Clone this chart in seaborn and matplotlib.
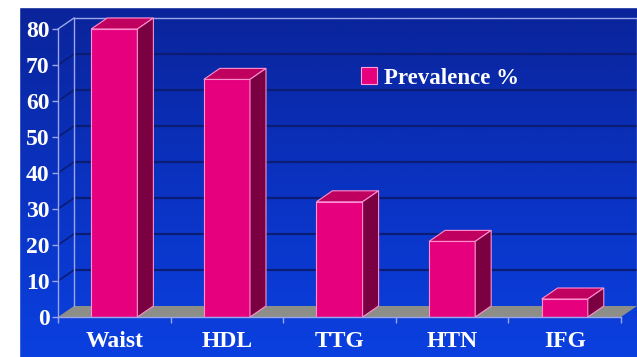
import numpy as np
import pandas as pd
import seaborn as sns
import matplotlib.pyplot as plt
from matplotlib.patches import Polygon, Rectangle
from matplotlib.colors import LinearSegmentedColormap

# Data
categories = ["Waist", "HDL", "TTG", "HTN", "IFG"]
prevalence = [80, 66, 32, 21, 5]
y_ticks = [0, 10, 20, 30, 40, 50, 60, 70, 80]
series_label = "Prevalence %"

df = pd.DataFrame({"factor": categories, "value": prevalence})

# Colours
FRONT = "#e6007e"
TOP = "#c0005e"
SIDE = "#7a0042"
EDGE = "#ff8fcf"
LAV = "#9aa6ee"
GRID = "#0a1c74"
FLOOR = "#8e8e88"

W, H = 637, 357
fig = plt.figure(figsize=(W / 100, H / 100), dpi=100)

# Background gradient
bg = fig.add_axes([0, 0, 1, 1], zorder=0)
grad = np.linspace(0, 1, 256).reshape(-1, 1)
cmap = LinearSegmentedColormap.from_list("bgblue", ["#0a2398", "#0a32c0", "#0b40e0"])
bg.imshow(grad, aspect="auto", cmap=cmap, extent=[0, 1, 0, 1], origin="upper")
bg.set_xlim(0, 1)
bg.set_ylim(0, 1)
bg.axis("off")
# white margins on top and left
bg.add_patch(Rectangle((0, 1 - 7 / H), 1, 7 / H, color="white", zorder=5))
bg.add_patch(Rectangle((0, 0), 19 / W, 1, color="white", zorder=5))

# Main axes: front plane
x_left, x_right, y_bot, y_top = 58, 621, 317, 29
ax = fig.add_axes([x_left / W, (H - y_bot) / H, (x_right - x_left) / W, (y_bot - y_top) / H], zorder=1)
ax.set_facecolor("none")

XMIN, XMAX, YMAX = -0.5, 4.5, 80
DX = 16 * (XMAX - XMIN) / (x_right - x_left)
DY = 11 * YMAX / (y_bot - y_top)

# Floor
ax.add_patch(Polygon([(XMIN, 0), (XMAX, 0), (XMAX + DX, DY), (XMIN + DX, DY)],
                     closed=True, facecolor=FLOOR, edgecolor="none", zorder=1, clip_on=False))

# Gridlines on back wall and left wall
for v in y_ticks[1:]:
    c = LAV if v == YMAX else GRID
    lw = 1.0 if v == YMAX else 1.6
    ax.plot([XMIN + DX, XMAX + DX], [v + DY, v + DY], color=c, lw=lw, zorder=1.5, clip_on=False)
    ax.plot([XMIN, XMIN + DX], [v, v + DY], color=c, lw=1.0 if v == YMAX else 1.2, zorder=1.5, clip_on=False)
ax.plot([XMIN + DX, XMIN + DX], [DY, YMAX + DY], color=LAV, lw=1.0, zorder=1.6, clip_on=False)
ax.plot([XMAX + DX, XMAX + DX], [DY, YMAX + DY], color=LAV, lw=1.0, zorder=1.6, clip_on=False)

# Bars (front faces)
sns.barplot(data=df, x="factor", y="value", color=FRONT, saturation=1, width=0.41, ax=ax,
            edgecolor=EDGE, linewidth=0.8, label=series_label, zorder=3)

# Top and side faces of each bar
for p in list(ax.patches):
    if not isinstance(p, Rectangle):
        continue
    x0 = p.get_x()
    x1 = x0 + p.get_width()
    h = p.get_height()
    if h <= 0 or p.get_width() > 1:
        continue
    ax.add_patch(Polygon([(x0, h), (x1, h), (x1 + DX, h + DY), (x0 + DX, h + DY)], closed=True,
                         facecolor=TOP, edgecolor=EDGE, lw=0.8, zorder=3.2, clip_on=False))
    ax.add_patch(Polygon([(x1, 0), (x1 + DX, DY), (x1 + DX, h + DY), (x1, h)], closed=True,
                         facecolor=SIDE, edgecolor=EDGE, lw=0.8, zorder=3.2, clip_on=False))

ax.set_xlim(XMIN, XMAX)
ax.set_ylim(0, YMAX)
ax.set_xlabel("")
ax.set_ylabel("")

# Axes styling
for s in ["top", "right"]:
    ax.spines[s].set_visible(False)
for s in ["left", "bottom"]:
    ax.spines[s].set_color(LAV)
    ax.spines[s].set_linewidth(1.0)
    ax.spines[s].set_zorder(4)

ytick_font = dict(family="Liberation Serif", weight="bold", size=17, color="white")
xtick_font = dict(family="Liberation Serif", weight="bold", size=17, color="white")
ax.set_yticks(y_ticks)
ax.set_yticklabels([str(t) for t in y_ticks], fontdict=ytick_font)
ax.tick_params(axis="y", direction="out", length=4, width=1, color=LAV, pad=2)
ax.set_xticks(range(len(categories)))
ax.set_xticklabels(categories, fontdict=xtick_font)
ax.tick_params(axis="x", which="major", length=0, pad=10)
ax.set_xticks(np.arange(XMIN, XMAX + 0.01, 1.0), minor=True)
ax.tick_params(axis="x", which="minor", direction="out", length=4, width=1, color=LAV)

leg = ax.legend(loc="center left", bbox_to_anchor=(340 / W, 1 - 78 / H), bbox_transform=fig.transFigure,
                frameon=False, handlelength=0.7, handleheight=0.7, handletextpad=0.3,
                prop=dict(family="Liberation Serif", weight="bold", size=16.5))
for t in leg.get_texts():
    t.set_color("white")
for hnd in leg.legend_handles:
    hnd.set_edgecolor("#ff9fd6")

fig.savefig("out.png", dpi=100)
